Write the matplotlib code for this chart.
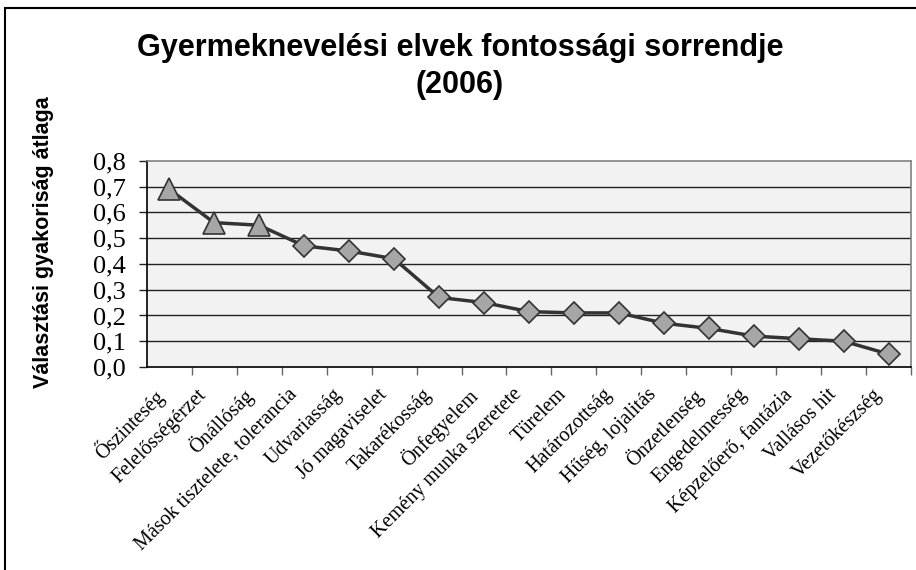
import matplotlib
matplotlib.use("Agg")
import matplotlib.pyplot as plt
from matplotlib.patches import Rectangle

# valasztasi gyakorisag atlaga, 2006
categories = ["Őszinteség", "Felelősségérzet", "Önállóság",
              "Mások tisztelete, tolerancia", "Udvariasság", "Jó magaviselet",
              "Takarékosság", "Önfegyelem", "Kemény munka szeretete", "Türelem",
              "Határozottság", "Hűség, lojalitás", "Önzetlenség", "Engedelmesség",
              "Képzelőerő, fantázia", "Vallásos hit", "Vezetőkészség"]
values = [0.69, 0.56, 0.55, 0.47, 0.45, 0.42, 0.27, 0.25, 0.215, 0.21,
          0.21, 0.17, 0.15, 0.12, 0.11, 0.10, 0.05]
n_triangle = 3  # first three points drawn as triangles
yticks = [0.0, 0.1, 0.2, 0.3, 0.4, 0.5, 0.6, 0.7, 0.8]

fig = plt.figure(figsize=(9.16, 5.70), dpi=100)
ax = fig.add_axes([0.160, 0.356, 0.835, 0.362])
ax.set_facecolor("#f2f2f2")

x = list(range(len(values)))
ax.plot(x, values, color="#333333", lw=2.5, zorder=3)
ax.plot(x[:n_triangle], values[:n_triangle], ls="none", marker="^", ms=16,
        mfc="#a6a6a6", mec="#333333", mew=1.2, zorder=4)
ax.plot(x[n_triangle:], values[n_triangle:], ls="none", marker="D", ms=11.5,
        mfc="#a6a6a6", mec="#333333", mew=1.2, zorder=4)

ax.set_xlim(-0.5, len(values) - 0.5)
ax.set_ylim(0, 0.8)
ax.set_yticks(yticks)
ax.set_yticklabels([f"{v:.1f}".replace(".", ",") for v in yticks],
                   fontfamily="Liberation Serif", fontsize=19)
for v in yticks[1:-1]:
    ax.axhline(v, color="#222222", lw=1, zorder=1)

ax.set_xticks([i - 0.5 for i in range(1, len(values) + 1)])
ax.set_xticklabels([])
ax.tick_params(axis="x", direction="out", length=6, color="#666666", width=1)
ax.tick_params(axis="y", direction="out", length=6, color="#222222", width=1, pad=9)

for i, lab in enumerate(categories):
    ax.annotate(lab, xy=(i, 0), xycoords=("data", "axes fraction"),
                xytext=(-12, -13), textcoords="offset points",
                rotation=45, rotation_mode="anchor", ha="right", va="top",
                fontfamily="Liberation Serif", fontsize=14.5)

ax.spines["left"].set_color("#000000")
ax.spines["bottom"].set_color("#000000")
ax.spines["top"].set_color("#808080")
ax.spines["right"].set_color("#808080")
for s in ax.spines.values():
    s.set_linewidth(1.2)

fig.text(0.502, 0.884, "Gyermeknevelési elvek fontossági sorrendje\n(2006)",
         ha="center", va="center", fontfamily="Liberation Sans",
         fontweight="bold", fontsize=22, linespacing=1.3)
fig.text(0.048, 0.575, "Választási gyakoriság átlaga", rotation=90,
         ha="center", va="center", fontfamily="Liberation Sans",
         fontweight="bold", fontsize=15.5)

fig.patches.append(Rectangle((0.006, -0.01), 1.0, 0.996, transform=fig.transFigure,
                             fill=False, ec="#000000", lw=1.5))

fig.savefig("out.png", dpi=100)
